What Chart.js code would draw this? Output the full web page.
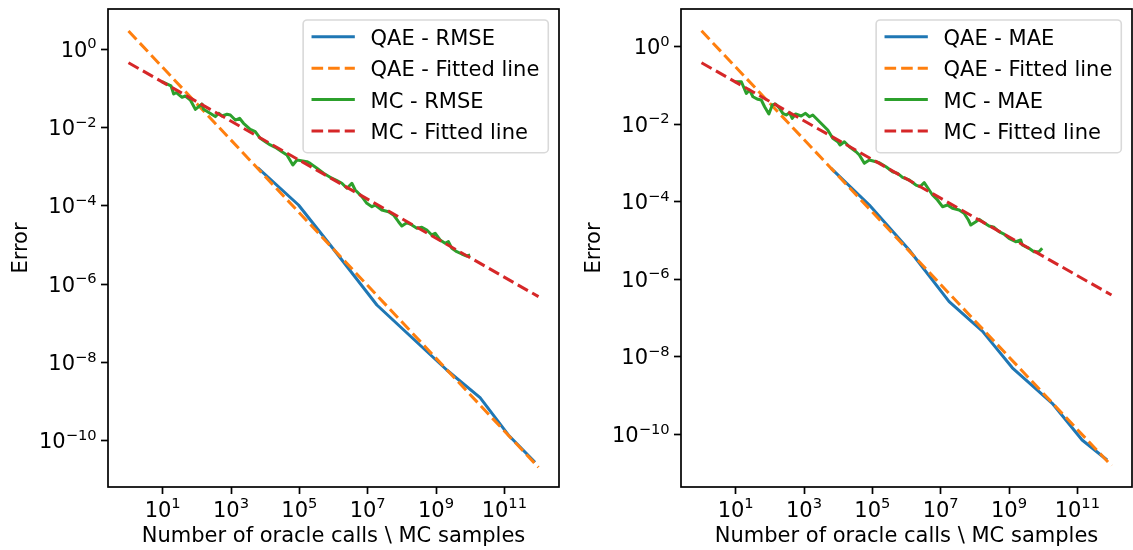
<!DOCTYPE html>
<html><head><meta charset="utf-8">
<script src="https://cdn.jsdelivr.net/npm/chart.js@4.4.1/dist/chart.umd.min.js"></script>
<style>
html,body{margin:0;padding:0;background:#fff;overflow:hidden;width:1133px;height:550px;}
canvas{position:absolute;top:0;}
#c1{left:0px}
#c2{left:573px}
</style></head><body>
<canvas id="c1" width="566" height="550"></canvas>
<canvas id="c2" width="560" height="550"></canvas>
<script>
// ---------- tick values and labels (base^exponent) ----------
const xTickValues = [1e1, 1e3, 1e5, 1e7, 1e9, 1e11];
const xTickLabels = ['10^1', '10^3', '10^5', '10^7', '10^9', '10^11'];
const yTickValues = [1e0, 1e-2, 1e-4, 1e-6, 1e-8, 1e-10];
const yTickLabels = ['10^0', '10^\u22122', '10^\u22124', '10^\u22126', '10^\u22128', '10^\u221210'];
const xAxisTitle = 'Number of oracle calls \\ MC samples';
const yAxisTitle = 'Error';

// ---------- left panel: RMSE ----------
const rmseQaeX = [6.0e3, 9.48e4, 8.02e5, 1.86e7, 2.07e9, 1.95e10, 1.31e11, 7.91e11];
const rmseQaeY = [9.46e-4, 1.054e-4, 1.0e-5, 2.94e-7, 6.43e-9, 1.26e-9, 1.41e-10, 2.82e-11];
const rmseQaeFitX = [1, 1e12];
const rmseQaeFitY = [2.93, 2.1e-11];
const rmseMcX = [9.5, 17.6, 21, 25.1, 36.9, 46.1, 64.6, 90.4, 142, 158, 207, 347, 434, 546, 764, 955,
  1340, 1780, 2330, 3660, 5130, 7190, 1.01e4, 1.41e4, 1.97e4, 3.09e4, 4.34e4, 6.46e4, 8.51e4, 1.67e5,
  2.08e5, 3.27e5, 5.11e5, 8.0e5, 1.26e6, 1.76e6, 2.47e6, 3.45e6, 4.32e6, 6.76e6, 9.48e6, 1.33e7, 1.66e7,
  2.6e7, 4.06e7, 5.68e7, 7.96e7, 1.0e8, 1.4e8, 1.96e8, 2.75e8, 3.85e8, 5.38e8, 7.53e8, 9.42e8, 1.32e9,
  1.85e9, 2.31e9, 2.9e9, 4.06e9, 5.68e9, 7.94e9, 1.0e10];
const rmseMcY = [0.149, 0.116, 0.0721, 0.078, 0.0593, 0.0641, 0.0507, 0.0293, 0.0401, 0.0293, 0.0255,
  0.0191, 0.0232, 0.0198, 0.0219, 0.021, 0.0156, 0.0173, 0.0129, 0.00906, 0.00785, 0.00533, 0.00437,
  0.0036, 0.00314, 0.00242, 0.002, 0.00111, 0.00149, 0.00135, 0.00122, 9.12e-4, 6.81e-4, 5.37e-4,
  4.41e-4, 3.78e-4, 2.82e-4, 3.78e-4, 2.55e-4, 1.72e-4, 1.16e-4, 9.55e-5, 1.05e-4, 7.85e-5, 7.11e-5,
  5.86e-5, 3.94e-5, 3.07e-5, 3.72e-5, 3.25e-5, 2.68e-5, 2.84e-5, 2.42e-5, 1.81e-5, 2.0e-5, 1.35e-5,
  1.11e-5, 1.22e-5, 8.26e-6, 6.76e-6, 5.9e-6, 5.25e-6, 5.57e-6];
const rmseMcFitX = [1, 1e12];
const rmseMcFitY = [0.455, 4.8e-7];
const rmseYRange = [6.6e-12, 10.7];

// ---------- right panel: MAE ----------
const maeQaeX = [6.22e3, 8.17e4, 1.2e6, 1.77e7, 1.66e8, 1.25e9, 1.84e10, 1.38e11, 7.41e11];
const maeQaeY = [7.29e-4, 8.24e-5, 5.69e-6, 2.64e-7, 4.6e-8, 5.2e-9, 6.31e-10, 7.13e-11, 2.17e-11];
const maeQaeFitX = [1, 1e12];
const maeQaeFitY = [2.57, 1.55e-11];
const maeMcX = [9.4, 14.7, 20.5, 25.6, 32, 44.8, 56.2, 70.3, 93.8, 118, 147, 193, 240, 302, 378, 452,
  565, 828, 1107, 1449, 1807, 2529, 3540, 4955, 6934, 9705, 1.14e4, 1.52e4, 2.13e4, 3.34e4, 4.17e4,
  5.83e4, 8.17e4, 1.28e5, 1.6e5, 2.51e5, 3.92e5, 5.48e5, 7.67e5, 1.2e6, 1.89e6, 2.47e6, 3.3e6, 4.61e6,
  5.77e6, 8.07e6, 1.13e7, 1.58e7, 2.21e7, 3.47e7, 4.85e7, 6.49e7, 7.62e7, 1.07e8, 1.33e8, 1.86e8,
  2.61e8, 3.65e8, 5.11e8, 7.15e8, 1.0e9, 1.57e9, 2.2e9, 2.44e9, 3.84e9, 5.37e9, 7.52e9, 9.38e9];
const maeMcY = [0.125, 0.125, 0.0627, 0.0764, 0.0513, 0.0439, 0.0422, 0.0283, 0.0184, 0.0313, 0.0333,
  0.0257, 0.0191, 0.0173, 0.0198, 0.0142, 0.0184, 0.0163, 0.0191, 0.0156, 0.0173, 0.0129, 0.00955,
  0.0071, 0.00434, 0.00354, 0.00291, 0.00354, 0.00263, 0.00195, 0.00161, 9.8e-4, 0.00119, 0.00108,
  0.00102, 8.02e-4, 5.96e-4, 5.42e-4, 4.27e-4, 3.64e-4, 2.7e-4, 2.44e-4, 3.1e-4, 2.01e-4, 1.49e-4,
  1.11e-4, 7.45e-5, 8.24e-5, 6.78e-5, 6.12e-5, 5.04e-5, 3.38e-5, 2.51e-5, 3.05e-5, 3.52e-5, 2.88e-5,
  2.37e-5, 2.19e-5, 1.69e-5, 1.47e-5, 1.14e-5, 9.31e-6, 1.03e-5, 7.66e-6, 6.3e-6, 5.14e-6, 5.14e-6, 6.3e-6];
const maeMcFitX = [1, 1e12];
const maeMcFitY = [0.386, 3.93e-7];
const maeYRange = [4.37e-12, 9.4];

const xRange = [Math.pow(10, -0.6), Math.pow(10, 12.6)];

// ---------- styling ----------
const C_BLUE = '#1f77b4', C_ORANGE = '#ff7f0e', C_GREEN = '#2ca02c', C_RED = '#d62728';
const FONT = '"DejaVu Sans", "Liberation Sans", sans-serif';
const FS = 21, FS_SUP = 14.7, SUP_RAISE = 8.4;
const DASH = [11.6, 5];
const LW = 3;

Chart.defaults.font.family = FONT;
Chart.defaults.color = '#000';

function pts(xs, ys) { return xs.map((x, i) => ({x: x, y: ys[i]})); }

// draw "base^exp" label; anchor: 'center' (x axis) or 'right' (y axis)
function drawPowerLabel(ctx, text, x, baseline, anchor) {
  const parts = text.split('^');
  ctx.font = FS + 'px ' + FONT;
  const wb = ctx.measureText(parts[0]).width;
  ctx.font = FS_SUP + 'px ' + FONT;
  const we = parts[1] ? ctx.measureText(parts[1]).width : 0;
  const total = wb + we;
  const left = anchor === 'center' ? x - total / 2 : x - total;
  ctx.textAlign = 'left';
  ctx.textBaseline = 'alphabetic';
  ctx.fillStyle = '#000';
  ctx.font = FS + 'px ' + FONT;
  ctx.fillText(parts[0], left, baseline);
  if (parts[1]) {
    ctx.font = FS_SUP + 'px ' + FONT;
    ctx.fillText(parts[1], left + wb, baseline - SUP_RAISE);
  }
}

const decorPlugin = {
  id: 'frameLabelsLegend',
  afterDatasetsDraw(chart) {
    const {ctx, chartArea: a} = chart;
    ctx.save();
    ctx.strokeStyle = '#000';
    ctx.lineWidth = 1.7;
    ctx.strokeRect(a.left, a.top, a.right - a.left, a.bottom - a.top);
    // tick labels placed through the library's scales
    const xs = chart.scales.x, ys = chart.scales.y;
    xs.ticks.forEach((t, i) => {
      drawPowerLabel(ctx, xTickLabels[i], xs.getPixelForValue(t.value), a.bottom + 29.7, 'center');
    });
    ys.ticks.forEach((t, i) => {
      drawPowerLabel(ctx, yTickLabels[i], a.left - 11.3, ys.getPixelForValue(t.value) + 7.6, 'right');
    });
    ctx.restore();
  },
  afterDraw(chart) {
    const {ctx, chartArea: a} = chart;
    const ds = chart.data.datasets;
    ctx.save();
    ctx.font = FS + 'px ' + FONT;
    let tw = 0;
    ds.forEach(d => { tw = Math.max(tw, ctx.measureText(d.label).width); });
    const pad = 8.4, handle = 43.3, gap = 15.7, rpad = 9;
    const w = pad + handle + gap + tw + rpad;
    const h = 132.7;
    const x1 = a.right - 10.7 - w, y1 = a.top + 11;
    const r = 4;
    ctx.beginPath();
    ctx.moveTo(x1 + r, y1);
    ctx.arcTo(x1 + w, y1, x1 + w, y1 + h, r);
    ctx.arcTo(x1 + w, y1 + h, x1, y1 + h, r);
    ctx.arcTo(x1, y1 + h, x1, y1, r);
    ctx.arcTo(x1, y1, x1 + w, y1, r);
    ctx.closePath();
    ctx.fillStyle = 'rgba(255,255,255,0.8)';
    ctx.fill();
    ctx.strokeStyle = '#d9d9d9';
    ctx.lineWidth = 1.6;
    ctx.stroke();
    ds.forEach((d, i) => {
      const y = y1 + 16.7 + i * 31.43;
      ctx.beginPath();
      ctx.setLineDash(d.borderDash || []);
      ctx.strokeStyle = d.borderColor;
      ctx.lineWidth = LW;
      ctx.moveTo(x1 + pad, y);
      ctx.lineTo(x1 + pad + handle, y);
      ctx.stroke();
      ctx.setLineDash([]);
      ctx.fillStyle = '#000';
      ctx.textBaseline = 'alphabetic';
      ctx.textAlign = 'left';
      ctx.fillText(d.label, x1 + pad + handle + gap, y + 8.15);
    });
    ctx.restore();
  }
};

function makeChart(id, metric, qx, qy, qfx, qfy, mx, my, mfx, mfy, yRange, padRight) {
  const datasets = [
    {label: 'QAE - ' + metric, data: pts(qx, qy), borderColor: C_BLUE, order: 3},
    {label: 'QAE - Fitted line', data: pts(qfx, qfy), borderColor: C_ORANGE, borderDash: DASH, order: 2},
    {label: 'MC - ' + metric, data: pts(mx, my), borderColor: C_GREEN, order: 1},
    {label: 'MC - Fitted line', data: pts(mfx, mfy), borderColor: C_RED, borderDash: DASH, order: 0}
  ].map(d => Object.assign({
    borderWidth: LW, pointRadius: 0, tension: 0, fill: false, showLine: true,
    borderJoinStyle: 'round', borderCapStyle: 'butt'
  }, d));

  const gridOpts = {display: true, drawOnChartArea: false, drawTicks: true, tickLength: 7,
                    tickColor: '#000', tickWidth: 1.7};

  return new Chart(document.getElementById(id), {
    type: 'line',
    data: {datasets: datasets},
    plugins: [decorPlugin],
    options: {
      responsive: false,
      animation: false,
      events: [],
      layout: {padding: {top: 9, right: padRight, left: 0, bottom: 0}},
      plugins: {legend: {display: false}, tooltip: {enabled: false}},
      scales: {
        x: {
          type: 'logarithmic',
          position: 'bottom',
          min: xRange[0], max: xRange[1],
          afterFit: s => { s.height = 63; },
          afterBuildTicks: s => { s.ticks = xTickValues.map(v => ({value: v})); },
          ticks: {display: false, autoSkip: false},
          grid: gridOpts,
          border: {display: false},
          title: {display: true, text: xAxisTitle, font: {size: FS}, color: '#000',
                  padding: {top: 0, bottom: 1}}
        },
        y: {
          type: 'logarithmic',
          position: 'left',
          min: yRange[0], max: yRange[1],
          afterFit: s => { s.width = 108; },
          afterBuildTicks: s => { s.ticks = yTickValues.map(v => ({value: v})); },
          ticks: {display: false, autoSkip: false},
          grid: gridOpts,
          border: {display: false},
          title: {display: true, text: yAxisTitle, font: {size: FS}, color: '#000',
                  padding: {top: 9, bottom: 0}}
        }
      }
    }
  });
}

makeChart('c1', 'RMSE', rmseQaeX, rmseQaeY, rmseQaeFitX, rmseQaeFitY,
          rmseMcX, rmseMcY, rmseMcFitX, rmseMcFitY, rmseYRange, 7);
makeChart('c2', 'MAE', maeQaeX, maeQaeY, maeQaeFitX, maeQaeFitY,
          maeMcX, maeMcY, maeMcFitX, maeMcFitY, maeYRange, 1);
</script>
</body></html>
